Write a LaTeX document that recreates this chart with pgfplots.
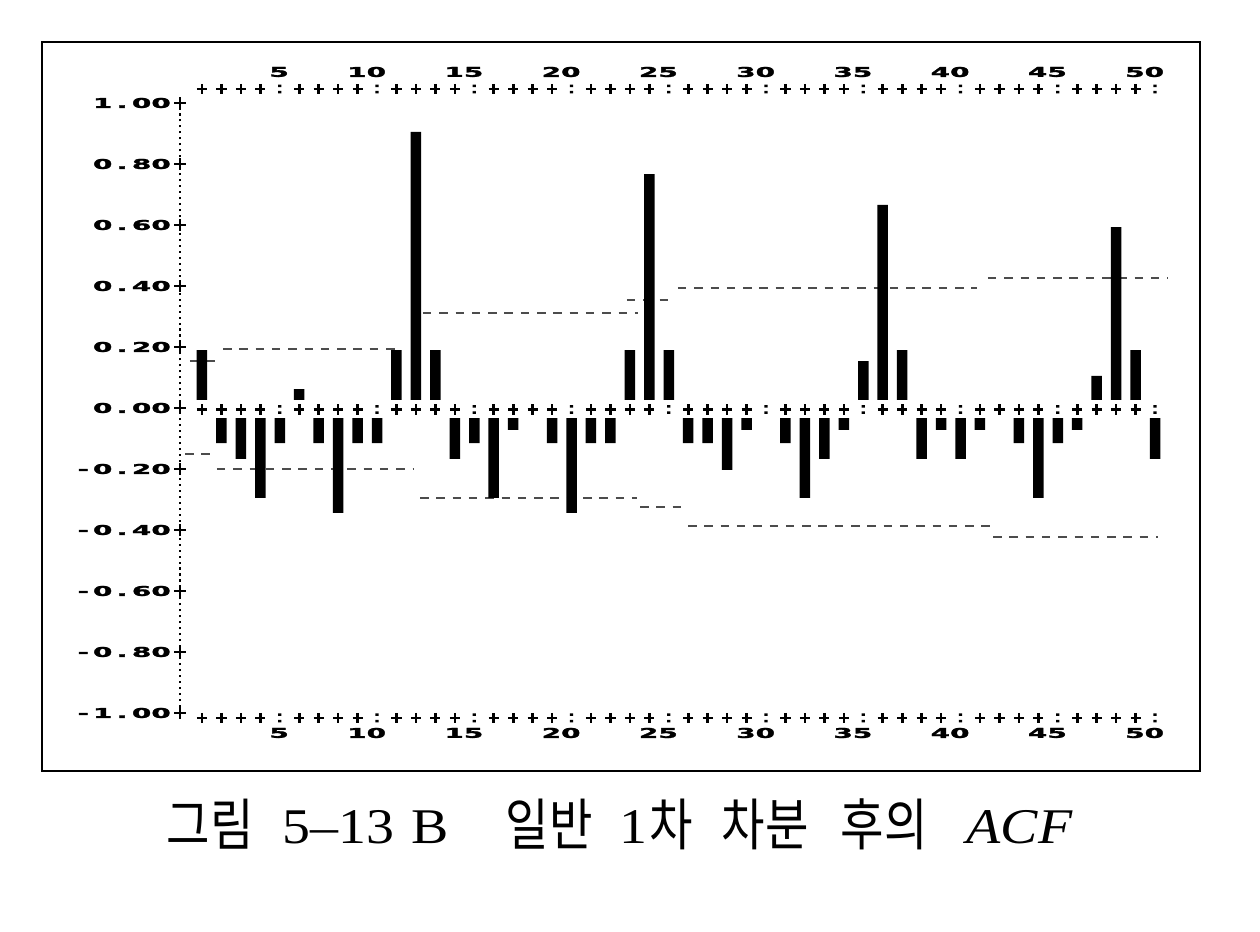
\documentclass[border=0pt]{standalone}
\usepackage{pgfplots}
\pgfplotsset{compat=1.18}
\usepackage{pgfplotstable}
\usepackage{graphicx}
\usepackage{fontspec}
\setmainfont{Liberation Serif}
\newfontfamily\kr{Noto Sans CJK KR}
\newfontfamily\sasf[BoldFont={* Bold}, BoldFeatures={FakeBold=1.6}]{DejaVu Sans}
\newcommand\sascell[1]{\makebox[0.1945cm][c]{\scalebox{2.05}[1]{#1}}}
\def\sas#1{\sasloop#1\relax}
\def\sasloop#1{\ifx\relax#1\else\sascell{#1}\expandafter\sasloop\fi}
\newcommand\krt[1]{\scalebox{0.84}[1]{\kr\fontsize{16pt}{18pt}\selectfont #1}}
\newcommand\lat[1]{\scalebox{1.12}[1]{\fontsize{14.2pt}{16pt}\selectfont #1}}
\pgfdeclareplotmark{sascolon}{%
  \pgfpathrectangle{\pgfpoint{-0.45pt}{0.55pt}}{\pgfpoint{0.9pt}{0.7pt}}%
  \pgfpathrectangle{\pgfpoint{-0.45pt}{-1.25pt}}{\pgfpoint{0.9pt}{0.7pt}}%
  \pgfusepathqfill}

% ACF values by lag
\pgfplotstableread{
lag acf
1 0.19
2 -0.115
3 -0.167
4 -0.295
5 -0.115
6 0.062
7 -0.115
8 -0.344
9 -0.115
10 -0.115
11 0.19
12 0.905
13 0.19
14 -0.167
15 -0.115
16 -0.295
17 -0.072
18 0
19 -0.115
20 -0.344
21 -0.115
22 -0.115
23 0.19
24 0.767
25 0.19
26 -0.115
27 -0.115
28 -0.203
29 -0.072
30 0
31 -0.115
32 -0.295
33 -0.167
34 -0.072
35 0.154
36 0.666
37 0.19
38 -0.167
39 -0.072
40 -0.167
41 -0.072
42 0
43 -0.115
44 -0.295
45 -0.115
46 -0.072
47 0.105
48 0.593
49 0.19
50 -0.167
}\acftable

% plus-sign positions of the printer rows
\pgfplotstableread{
x top mid bot
1 1.046 -0.005 -1.016
2 1.046 -0.005 -1.016
3 1.046 -0.005 -1.016
4 1.046 -0.005 -1.016
6 1.046 -0.005 -1.016
7 1.046 -0.005 -1.016
8 1.046 -0.005 -1.016
9 1.046 -0.005 -1.016
11 1.046 -0.005 -1.016
12 1.046 -0.005 -1.016
13 1.046 -0.005 -1.016
14 1.046 -0.005 -1.016
16 1.046 -0.005 -1.016
17 1.046 -0.005 -1.016
18 1.046 -0.005 -1.016
19 1.046 -0.005 -1.016
21 1.046 -0.005 -1.016
22 1.046 -0.005 -1.016
23 1.046 -0.005 -1.016
24 1.046 -0.005 -1.016
26 1.046 -0.005 -1.016
27 1.046 -0.005 -1.016
28 1.046 -0.005 -1.016
29 1.046 -0.005 -1.016
31 1.046 -0.005 -1.016
32 1.046 -0.005 -1.016
33 1.046 -0.005 -1.016
34 1.046 -0.005 -1.016
36 1.046 -0.005 -1.016
37 1.046 -0.005 -1.016
38 1.046 -0.005 -1.016
39 1.046 -0.005 -1.016
41 1.046 -0.005 -1.016
42 1.046 -0.005 -1.016
43 1.046 -0.005 -1.016
44 1.046 -0.005 -1.016
46 1.046 -0.005 -1.016
47 1.046 -0.005 -1.016
48 1.046 -0.005 -1.016
49 1.046 -0.005 -1.016
}\plusrows

\pgfplotstableread{
x top mid bot
5 1.046 -0.005 -1.016
10 1.046 -0.005 -1.016
15 1.046 -0.005 -1.016
20 1.046 -0.005 -1.016
25 1.046 -0.005 -1.016
30 1.046 -0.005 -1.016
35 1.046 -0.005 -1.016
40 1.046 -0.005 -1.016
45 1.046 -0.005 -1.016
50 1.046 -0.005 -1.016
}\colonrows

\begin{document}
\begin{tikzpicture}
\path[use as bounding box] (0,0) rectangle (12.6,9.32);
\pgfplotsset{
  sasaxis/.style={
    at={(1.80cm,1.99cm)}, anchor=south west,
    scale only axis, width=9.945cm, height=6.61cm,
    xmin=-0.1311, xmax=51, ymin=-1.0656, ymax=1.1016,
    axis line style={draw=none},
    major tick length=0pt, tick style={draw=none},
    tick label style={font=\sasf\bfseries\fontsize{3.85pt}{4pt}\selectfont},
    xtick={5,10,15,20,25,30,35,40,45,50},
    xticklabels={\sas{5},\sas{10},\sas{15},\sas{20},\sas{25},\sas{30},\sas{35},\sas{40},\sas{45},\sas{50}},
    xticklabel style={anchor=east, inner sep=0pt, xshift=0.0973cm},
    clip=false,
  },
  lim/.style={black!70, line width=0.65pt, dash pattern=on 0.085cm off 0.078cm},
  plusmark/.style={only marks, mark=+, mark size=1.45pt, mark options={line width=0.75pt}, black},
  colonmark/.style={only marks, mark=sascolon, black, mark options={fill=black}},
}
\begin{axis}[sasaxis,
    ytick={-1,-0.8,-0.6,-0.4,-0.2,0,0.2,0.4,0.6,0.8,1},
    yticklabels={\sas{-1.00},\sas{-0.80},\sas{-0.60},\sas{-0.40},\sas{-0.20},\sas{0.00},\sas{0.20},\sas{0.40},\sas{0.60},\sas{0.80},\sas{1.00}},
    yticklabel style={anchor=east, inner sep=0pt, xshift=-0.085cm},
]
% confidence limits (upper)
\addplot[lim] coordinates {(0.38,0.154) (1.77,0.154)};
\addplot[lim] coordinates {(2.08,0.193) (11.28,0.193)};
\addplot[lim] coordinates {(12.36,0.311) (23.42,0.311)};
\addplot[lim] coordinates {(22.85,0.354) (25.2,0.354)};
\addplot[lim] coordinates {(25.47,0.393) (40.85,0.393)};
\addplot[lim] coordinates {(41.41,0.426) (50.67,0.426)};
% confidence limits (lower)
\addplot[lim] coordinates {(0.13,-0.151) (1.77,-0.151)};
\addplot[lim] coordinates {(1.77,-0.200) (11.85,-0.200)};
\addplot[lim] coordinates {(12.21,-0.295) (23.37,-0.295)};
\addplot[lim] coordinates {(23.52,-0.325) (25.94,-0.325)};
\addplot[lim] coordinates {(25.99,-0.387) (41.51,-0.387)};
\addplot[lim] coordinates {(41.67,-0.423) (50.15,-0.423)};
% bars
\addplot[ybar, bar width=0.105cm, fill=black, draw=none] table[x=lag, y=acf] {\acftable};
% gap around the zero row
\addplot[white, line width=0.18cm] coordinates {(0.4,-0.0033) (50.6,-0.0033)};
% printer rows
\addplot[plusmark] table[x=x, y=top] {\plusrows};
\addplot[plusmark] table[x=x, y=mid] {\plusrows};
\addplot[plusmark] table[x=x, y=bot] {\plusrows};
\addplot[colonmark] table[x=x, y=top] {\colonrows};
\addplot[colonmark] table[x=x, y=mid] {\colonrows};
\addplot[colonmark] table[x=x, y=bot] {\colonrows};
% left axis
\addplot[black, line width=0.65pt, dash pattern=on 0.6pt off 1.1pt] coordinates {(-0.1311,-1) (-0.1311,1)};
\addplot[plusmark, mark size=1.7pt] coordinates {(-0.1311,-1) (-0.1311,-0.8) (-0.1311,-0.6) (-0.1311,-0.4) (-0.1311,-0.2) (-0.1311,0) (-0.1311,0.2) (-0.1311,0.4) (-0.1311,0.6) (-0.1311,0.8) (-0.1311,1)};
\end{axis}
\begin{axis}[sasaxis, xticklabel pos=right, ytick=\empty]
\end{axis}
\draw[line width=0.75pt] (0.42,1.61) rectangle (12.00,8.90);
\node[anchor=base west, inner sep=0pt] at (1.66,0.86) {\krt{그림}};
\node[anchor=base west, inner sep=0pt] at (2.815,0.88) {\lat{5–13}};
\node[anchor=base west, inner sep=0pt] at (4.11,0.88) {\lat{B}};
\node[anchor=base west, inner sep=0pt] at (5.05,0.86) {\krt{일반}};
\node[anchor=base west, inner sep=0pt] at (6.19,0.88) {\lat{1}};
\node[anchor=base west, inner sep=0pt] at (6.49,0.86) {\krt{차}};
\node[anchor=base west, inner sep=0pt] at (7.21,0.86) {\krt{차분}};
\node[anchor=base west, inner sep=0pt] at (8.40,0.86) {\krt{후의}};
\node[anchor=base west, inner sep=0pt] at (9.66,0.88) {\lat{\itshape ACF}};
\end{tikzpicture}
\end{document}
